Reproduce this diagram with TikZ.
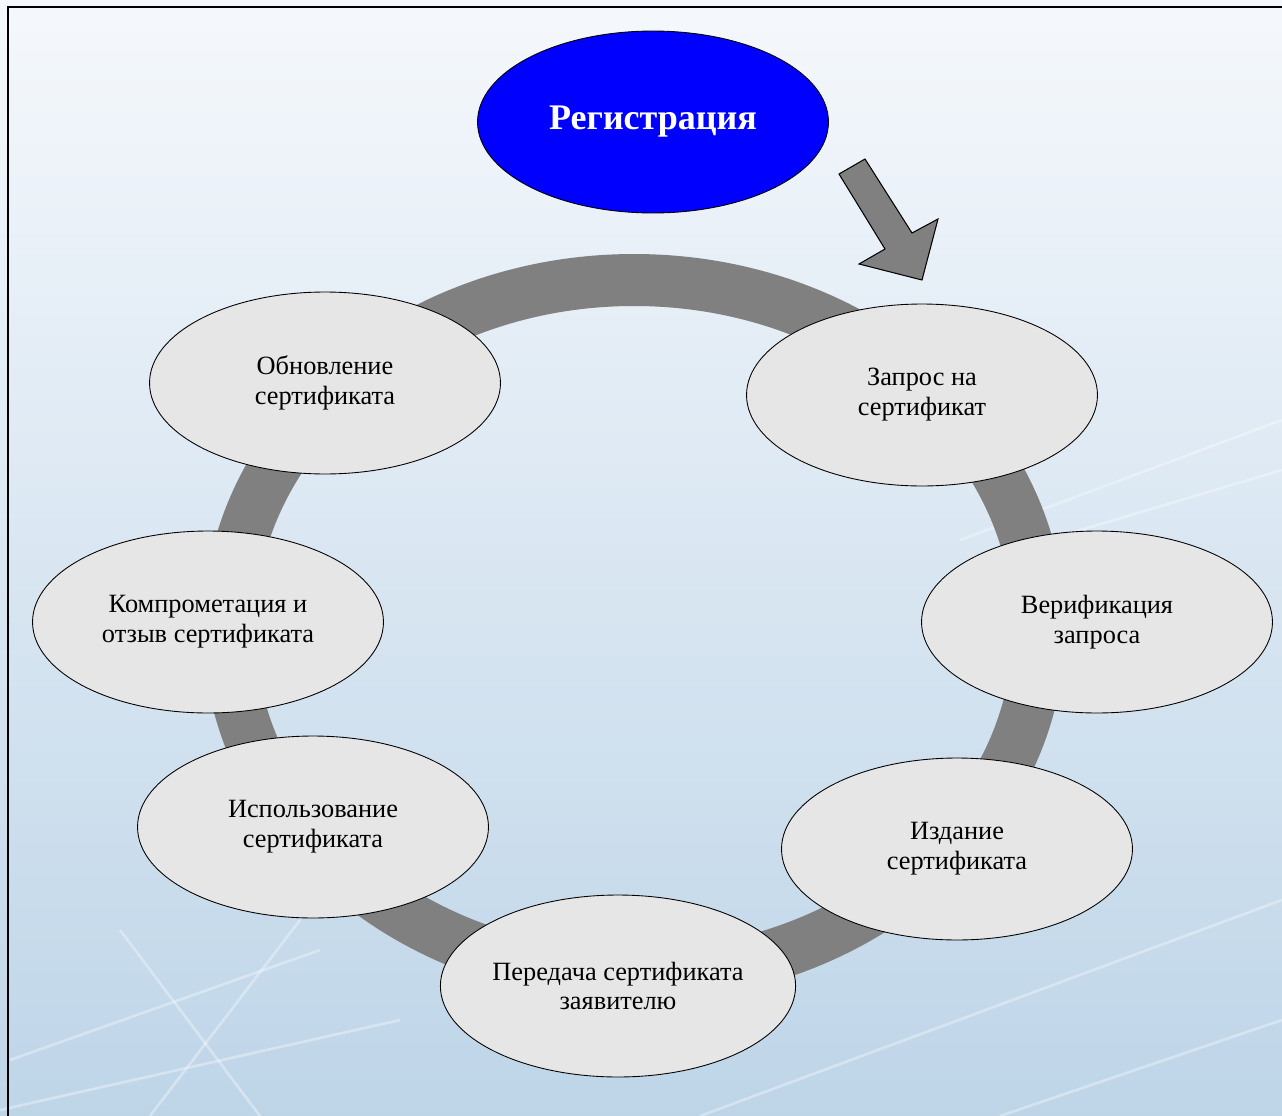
\documentclass[tikz,border=0pt]{standalone}
\usepackage{fontspec}
\setmainfont{Liberation Serif}
\usetikzlibrary{shapes.geometric}

\definecolor{fondoA}{RGB}{245,248,252}
\definecolor{fondoM}{RGB}{236,242,248}
\definecolor{fondoB}{RGB}{190,213,232}
\definecolor{grisetapa}{RGB}{230,230,230}
\definecolor{grisanillo}{RGB}{128,128,128}

\tikzset{
  etapa/.style={ellipse, draw=black, line width=0.5pt, fill=grisetapa,
    minimum width=7.02cm, minimum height=3.64cm, inner sep=0pt,
    align=center, font=\fontsize{15}{17}\selectfont},
  registro/.style={etapa, fill=blue, text=white,
    font=\fontsize{20.5}{24}\selectfont\bfseries},
  destello/.style={white, opacity=0.35, line width=1.5pt},
}

\begin{document}
\begin{tikzpicture}[x=0.02cm, y=-0.02cm]
    % Fondo
    \useasboundingbox (0,0) rectangle (1282,1116);
    \shade[top color=fondoA, middle color=fondoM, bottom color=fondoB] (0,0) rectangle (1282,1116);
    \draw[destello] (10,1060) -- (320,950);
    \draw[destello] (120,930) -- (260,1116);
    \draw[destello] (300,920) -- (150,1116);
    \draw[destello] (0,1110) -- (400,1020);
    \draw[destello] (960,540) -- (1282,420);
    \draw[destello] (980,560) -- (1282,470);
    \draw[destello] (700,1116) -- (1282,900);
    \draw[destello] (1000,1116) -- (1282,1020);

    % Borde
    \draw[line width=1.1pt] (8,1116) -- (8,7) -- (1282,7);

    % Anillo
    \draw[grisanillo, line width=1.04cm] (634,628) ellipse [x radius=405, y radius=348];

    % Etapas
    \node[registro] (reg) at (653,122) {Регистрация};
    \node[etapa] (zapros) at (922,395) {Запрос на\\сертификат};
    \node[etapa] (verif) at (1097,622) {Верификация\\запроса};
    \node[etapa] (izdanie) at (957,849) {Издание\\сертификата};
    \node[etapa] (peredacha) at (618,986) {Передача сертификата\\заявителю};
    \node[etapa] (ispolz) at (313,827) {Использование\\сертификата};
    \node[etapa] (kompr) at (208,622) {Компрометация и\\отзыв сертификата};
    \node[etapa] (obnov) at (325,383) {Обновление\\сертификата};

    % Flecha
    \draw[fill=grisanillo, line width=0.6pt] (839,174) -- (865,159) -- (912,233) -- (938,219)
        -- (922,280) -- (859,264) -- (885,249) -- cycle;
\end{tikzpicture}
\end{document}
